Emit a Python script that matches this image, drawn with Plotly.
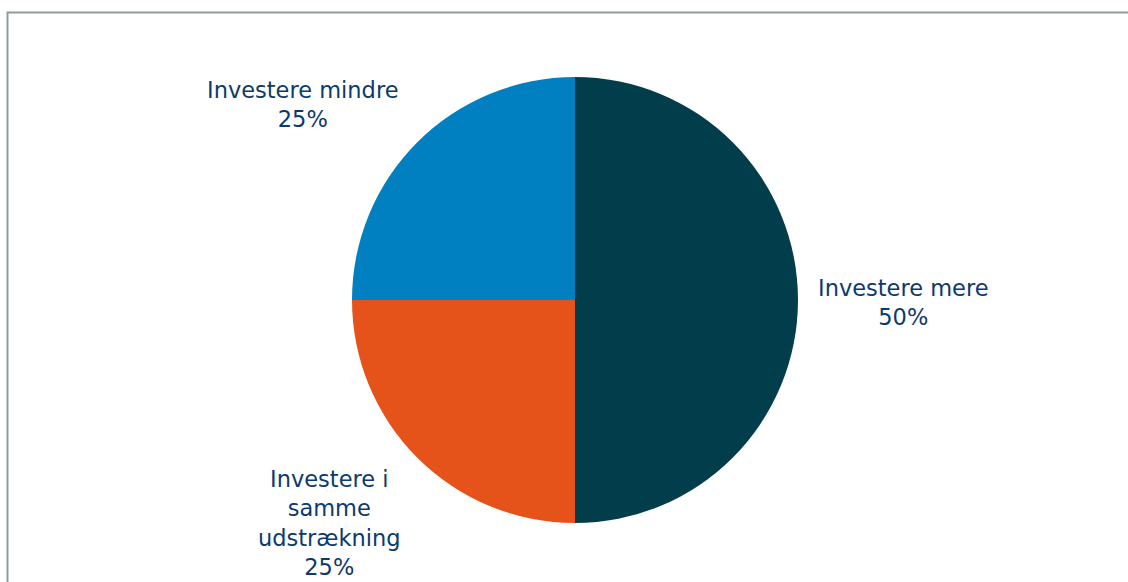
import math
import plotly.graph_objects as go

# Survey answers: share of companies by investment plan
categories = ["Investere mere", "Investere i samme udstrækning", "Investere mindre"]
label_lines = ["Investere mere", "Investere i<br>samme<br>udstrækning", "Investere mindre"]
shares = [50, 25, 25]
colors = ["#023d4b", "#e6531a", "#0080c1"]

W, H = 1128, 582
cx, cy, r = 575, 300, 223  # pie centre and radius in pixels
label_nudge = [(-2, 2), (0, -8), (-2, 6)]  # small pixel tweaks per outside label

fig = go.Figure(go.Pie(
    labels=categories,
    values=shares,
    sort=False,
    direction="clockwise",
    rotation=0,
    marker=dict(colors=colors, line=dict(width=0)),
    textinfo="none",
    hoverinfo="label+percent",
    showlegend=False,
    domain=dict(x=[(cx - r) / W, (cx + r) / W], y=[1 - (cy + r) / H, 1 - (cy - r) / H]),
))

# Outside labels positioned at each slice's mid-angle
total = sum(shares)
acc = 0
annotations = []
for lab, val, (nx, ny) in zip(label_lines, shares, label_nudge):
    mid = (acc + val / 2) / total * 2 * math.pi  # clockwise from 12 o'clock
    acc += val
    dx, dy = math.sin(mid), -math.cos(mid)
    dist = r + 20
    px, py = cx + dx * dist + nx, cy + dy * dist + ny
    xanchor = "left" if dx > 0.3 else ("right" if dx < -0.3 else "center")
    yanchor = "bottom" if dy < -0.3 else ("top" if dy > 0.3 else "middle")
    pct = round(val / total * 100)
    annotations.append(dict(
        x=px / W, y=1 - py / H, xref="paper", yref="paper",
        text=f"{lab}<br>{pct}%", showarrow=False,
        xanchor=xanchor, yanchor=yanchor, align="center",
        font=dict(family="DejaVu Sans, Verdana, sans-serif", size=22.5, color="#0c3a6c"),
    ))

fig.update_layout(
    width=W, height=H,
    margin=dict(l=0, r=0, t=0, b=0),
    paper_bgcolor="white",
    plot_bgcolor="white",
    annotations=annotations,
    shapes=[dict(
        type="rect", xref="paper", yref="paper",
        x0=7.5 / W, x1=1.05, y0=-0.05, y1=1 - 12.5 / H,
        line=dict(color="#8e9b9d", width=2), fillcolor="rgba(0,0,0,0)", layer="below",
    )],
)

fig.write_html("out.html")
